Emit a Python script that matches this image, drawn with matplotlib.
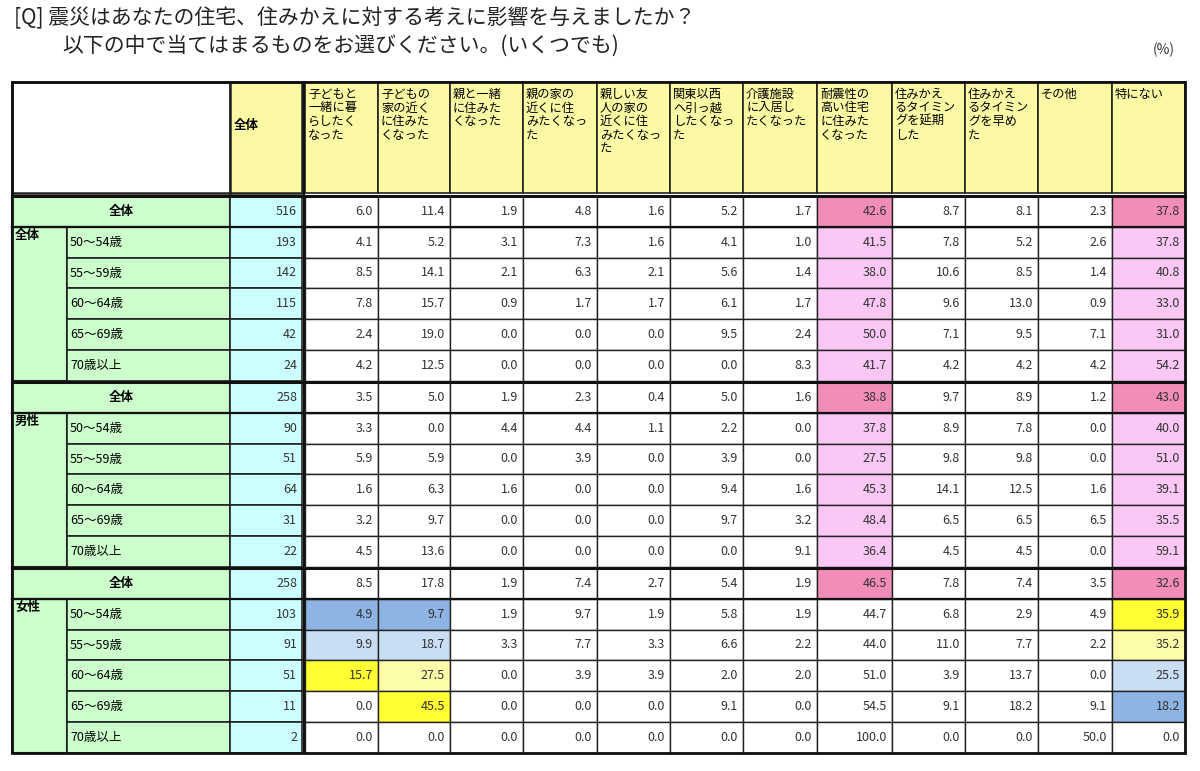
import matplotlib
matplotlib.use("Agg")
import matplotlib.pyplot as plt
from matplotlib.patches import Rectangle

plt.rcParams['font.family'] = ['Noto Sans CJK JP', 'DejaVu Sans']

columns = ["子どもと\n一緒に暮\nらしたく\nなった", "子どもの\n家の近く\nに住みた\nくなった", "親と一緒\nに住みた\nくなった",
           "親の家の\n近くに住\nみたくなっ\nた", "親しい友\n人の家の\n近くに住\nみたくなっ\nた", "関東以西\nへ引っ越\nしたくなっ\nた",
           "介護施設\nに入居し\nたくなった", "耐震性の\n高い住宅\nに住みた\nくなった", "住みかえ\nるタイミン\nグを延期\nした",
           "住みかえ\nるタイミン\nグを早め\nた", "その他", "特にない"]
groups = ["全体", "男性", "女性"]
ages = ["50～54歳", "55～59歳", "60～64歳", "65～69歳", "70歳以上"]
n_all = [[516, 193, 142, 115, 42, 24], [258, 90, 51, 64, 31, 22], [258, 103, 91, 51, 11, 2]]
values = [
    [[6.0, 11.4, 1.9, 4.8, 1.6, 5.2, 1.7, 42.6, 8.7, 8.1, 2.3, 37.8],
     [4.1, 5.2, 3.1, 7.3, 1.6, 4.1, 1.0, 41.5, 7.8, 5.2, 2.6, 37.8],
     [8.5, 14.1, 2.1, 6.3, 2.1, 5.6, 1.4, 38.0, 10.6, 8.5, 1.4, 40.8],
     [7.8, 15.7, 0.9, 1.7, 1.7, 6.1, 1.7, 47.8, 9.6, 13.0, 0.9, 33.0],
     [2.4, 19.0, 0.0, 0.0, 0.0, 9.5, 2.4, 50.0, 7.1, 9.5, 7.1, 31.0],
     [4.2, 12.5, 0.0, 0.0, 0.0, 0.0, 8.3, 41.7, 4.2, 4.2, 4.2, 54.2]],
    [[3.5, 5.0, 1.9, 2.3, 0.4, 5.0, 1.6, 38.8, 9.7, 8.9, 1.2, 43.0],
     [3.3, 0.0, 4.4, 4.4, 1.1, 2.2, 0.0, 37.8, 8.9, 7.8, 0.0, 40.0],
     [5.9, 5.9, 0.0, 3.9, 0.0, 3.9, 0.0, 27.5, 9.8, 9.8, 0.0, 51.0],
     [1.6, 6.3, 1.6, 0.0, 0.0, 9.4, 1.6, 45.3, 14.1, 12.5, 1.6, 39.1],
     [3.2, 9.7, 0.0, 0.0, 0.0, 9.7, 3.2, 48.4, 6.5, 6.5, 6.5, 35.5],
     [4.5, 13.6, 0.0, 0.0, 0.0, 0.0, 9.1, 36.4, 4.5, 4.5, 0.0, 59.1]],
    [[8.5, 17.8, 1.9, 7.4, 2.7, 5.4, 1.9, 46.5, 7.8, 7.4, 3.5, 32.6],
     [4.9, 9.7, 1.9, 9.7, 1.9, 5.8, 1.9, 44.7, 6.8, 2.9, 4.9, 35.9],
     [9.9, 18.7, 3.3, 7.7, 3.3, 6.6, 2.2, 44.0, 11.0, 7.7, 2.2, 35.2],
     [15.7, 27.5, 0.0, 3.9, 3.9, 2.0, 2.0, 51.0, 3.9, 13.7, 0.0, 25.5],
     [0.0, 45.5, 0.0, 0.0, 0.0, 9.1, 0.0, 54.5, 9.1, 18.2, 9.1, 18.2],
     [0.0, 0.0, 0.0, 0.0, 0.0, 0.0, 0.0, 100.0, 0.0, 0.0, 50.0, 0.0]],
]

YEL = '#fbf9a4'; CYAN = '#ccffff'; GREEN = '#ccffcc'
PINK_S = '#f28cb8'; PINK_L = '#fbc8f5'
BLUE = '#8db4e2'; LBLUE = '#c9ddf3'; Y2 = '#ffff33'; LY = '#fdfdaa'
special = {(2, 1, 0): BLUE, (2, 1, 1): BLUE, (2, 2, 0): LBLUE, (2, 2, 1): LBLUE,
           (2, 3, 0): Y2, (2, 3, 1): LY, (2, 4, 1): Y2,
           (2, 1, 11): Y2, (2, 2, 11): LY, (2, 3, 11): LBLUE, (2, 4, 11): BLUE}

fig = plt.figure(figsize=(12, 7.71), dpi=100)
ax = fig.add_axes([0, 0, 1, 1])
ax.set_xlim(0, 1200); ax.set_ylim(771, 0); ax.axis('off')

ax.text(14, 18, "[Q] 震災はあなたの住宅、住みかえに対する考えに影響を与えましたか？", fontsize=15, va='center', color='#222')
ax.text(62, 46, "以下の中で当てはまるものをお選びください。(いくつでも)", fontsize=15, va='center', color='#222')
ax.text(1175, 50, "(%)", fontsize=10, va='center', ha='right', color='#333')

xb = [305, 378, 450, 523, 597, 670, 743, 817, 892, 965, 1038, 1112, 1185]

def cell(x0, y0, x1, y1, fc, lw=1.0):
    ax.add_patch(Rectangle((x0, y0), x1 - x0, y1 - y0, facecolor=fc, edgecolor='#222', lw=lw))

# header
cell(12, 82, 230, 193, 'white', 1.8)
cell(230, 82, 302, 193, YEL, 1.8)
ax.text(234, 125, "全体", fontsize=9, fontweight='bold', va='center')
for i, c in enumerate(columns):
    cell(xb[i], 82, xb[i + 1], 193, YEL, 1.2)
    ax.text(xb[i] + 3, 88, c, fontsize=8.8, va='top', linespacing=1.05)

row_h = 30.8
for g, gname in enumerate(groups):
    top = 196 + g * 186
    rows_y = [top + r * row_h for r in range(6)]
    cell(12, rows_y[1], 67, rows_y[5] + row_h, GREEN, 1.5)
    ax.text(15, rows_y[1] + 2, gname, fontsize=9, fontweight='bold', va='top')
    for r in range(6):
        y0, y1 = rows_y[r], rows_y[r] + row_h
        if r == 0:
            cell(12, y0, 230, y1, GREEN, 1.5)
            ax.text(121, (y0 + y1) / 2, "全体", fontsize=9, fontweight='bold', ha='center', va='center')
        else:
            cell(67, y0, 230, y1, GREEN, 1.2)
            ax.text(70, (y0 + y1) / 2, ages[r - 1], fontsize=9, va='center')
        cell(230, y0, 302, y1, CYAN, 1.2)
        ax.text(297, (y0 + y1) / 2, str(n_all[g][r]), fontsize=9, ha='right', va='center', color='#333')
        for c in range(12):
            fc = 'white'
            if c in (7, 11):
                if r == 0:
                    fc = PINK_S
                elif g < 2:
                    fc = PINK_L
            fc = special.get((g, r, c), fc)
            cell(xb[c], y0, xb[c + 1], y1, fc, 1.0)
            ax.text(xb[c + 1] - 5, (y0 + y1) / 2, f"{values[g][r][c]:.1f}", fontsize=9,
                    ha='right', va='center', color='#333')
    ax.plot([12, 1185], [rows_y[0], rows_y[0]], color='#111', lw=2.2)
    ax.plot([12, 1185], [rows_y[1], rows_y[1]], color='#111', lw=1.6)
ax.plot([303.5, 303.5], [82, 196 + 2 * 186 + 6 * row_h], color='#111', lw=1.5)
ax.add_patch(Rectangle((12, 82), 1173, 196 + 2 * 186 + 6 * row_h - 82, fill=False, edgecolor='#111', lw=2))

fig.savefig("out.png", dpi=100)
